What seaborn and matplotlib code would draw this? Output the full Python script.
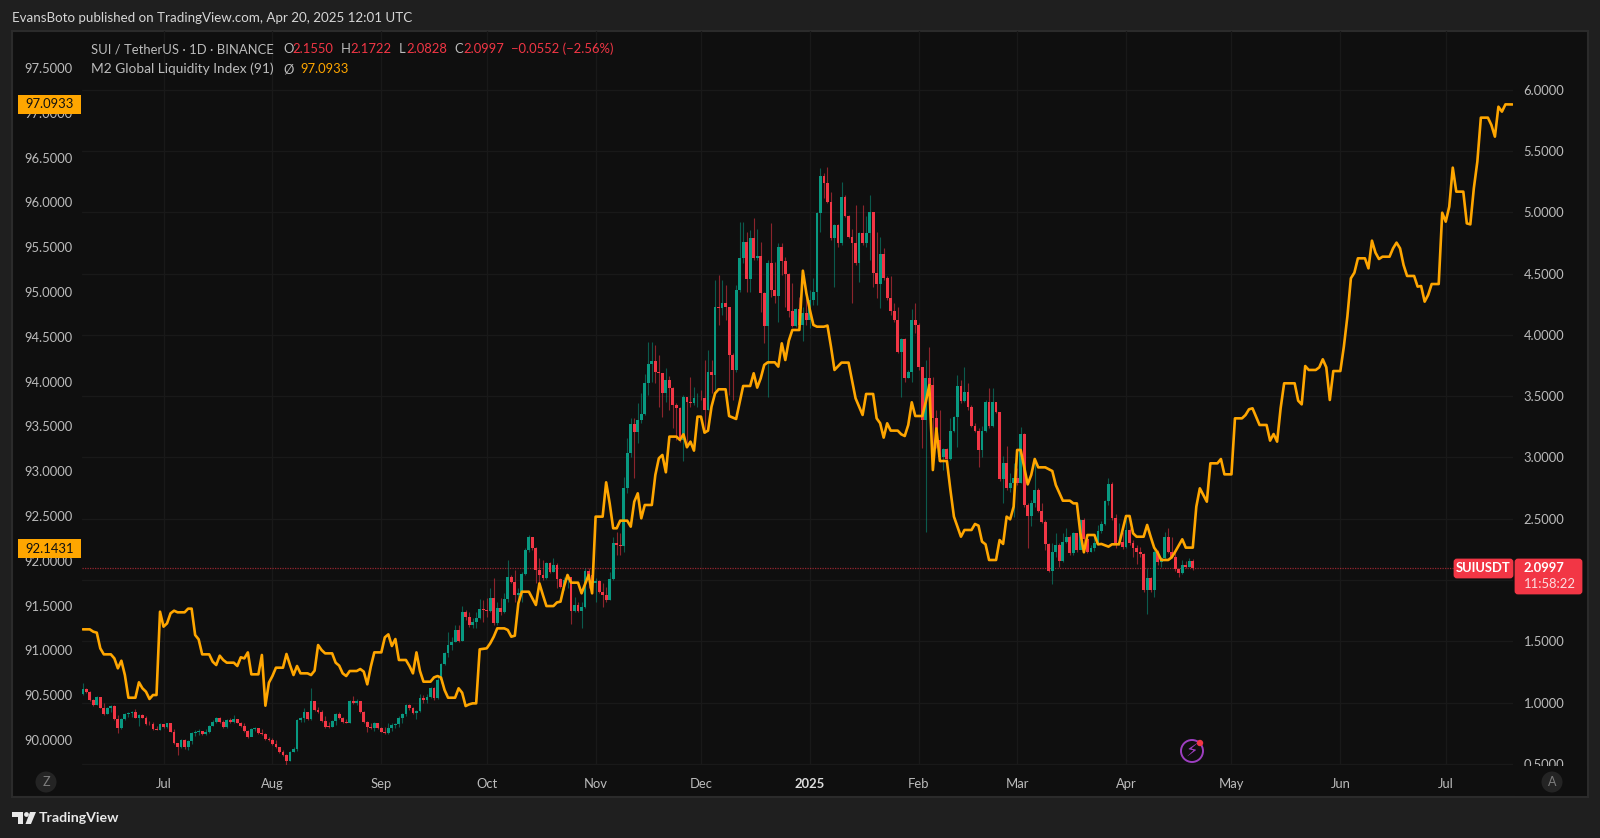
"""
SUIUSDT daily candles with the M2 Global Liquidity Index on a second scale,
drawn in the dark TradingView style. Saves out.png.
"""

import numpy as np
import pandas as pd
import matplotlib
matplotlib.use("Agg")
import matplotlib.pyplot as plt
from matplotlib.patches import Circle, FancyBboxPatch, Polygon, Rectangle
from matplotlib.ticker import FixedLocator, FuncFormatter, NullLocator
import seaborn as sns

# ---------------------------------------------
# DATA
# ---------------------------------------------
FIRST_DAY = "2024-06-08"
FIRST_OPEN = 1.069

# one value per day, 2024-06-08 .. 2025-04-20, ten per row
CLOSES = [
    1.111, 1.089, 1.021, 0.980, 1.043, 0.958, 0.906, 0.953, 0.972, 0.863,
    0.790, 0.866, 0.904, 0.917, 0.920, 0.877, 0.898, 0.877, 0.825, 0.822,
    0.784, 0.779, 0.822, 0.798, 0.830, 0.762, 0.672, 0.634, 0.694, 0.634,
    0.686, 0.748, 0.762, 0.770, 0.740, 0.762, 0.811, 0.844, 0.877, 0.844,
    0.798, 0.855, 0.844, 0.863, 0.836, 0.809, 0.770, 0.716, 0.784, 0.790,
    0.748, 0.743, 0.702, 0.694, 0.661, 0.634, 0.599, 0.572, 0.525, 0.599,
    0.618, 0.858, 0.871, 0.925, 0.863, 1.010, 0.939, 0.925, 0.849, 0.803,
    0.800, 0.849, 0.906, 0.871, 0.844, 0.836, 1.012, 0.993, 1.015, 0.925,
    0.841, 0.798, 0.790, 0.830, 0.790, 0.762, 0.748, 0.790, 0.817, 0.825,
    0.877, 0.906, 0.980, 0.953, 0.912, 0.928, 1.034, 1.021, 1.048, 1.116,
    1.034, 1.184, 1.312, 1.402, 1.470, 1.497, 1.592, 1.505, 1.742, 1.701,
    1.633, 1.660, 1.687, 1.761, 1.755, 1.750, 1.856, 1.652, 1.769, 1.742,
    1.845, 2.022, 1.987, 1.878, 1.897, 2.049, 2.245, 2.348, 2.259, 2.082,
    2.041, 2.014, 2.136, 2.068, 2.123, 2.005, 1.946, 2.000, 2.027, 1.750,
    1.796, 1.750, 1.777, 2.076, 2.041, 1.973, 1.995, 1.905, 1.878, 1.837,
    2.005, 2.305, 2.286, 2.280, 2.748, 3.034, 3.274, 3.212, 3.306, 3.355,
    3.605, 3.764, 3.791, 3.701, 3.687, 3.524, 3.633, 3.565, 3.429, 3.402,
    3.143, 3.497, 3.456, 3.442, 3.483, 3.489, 3.483, 3.388, 3.701, 3.674,
    4.231, 4.217, 4.264, 4.226, 3.837, 3.714, 4.367, 4.626, 4.762, 4.454,
    4.789, 4.626, 4.645, 4.340, 4.076, 4.585, 4.367, 4.321, 4.721, 4.607,
    4.495, 4.199, 4.076, 4.212, 4.081, 4.177, 4.122, 4.286, 4.354, 4.993,
    5.298, 5.243, 5.088, 4.789, 4.898, 4.748, 5.129, 4.971, 4.803, 4.748,
    4.590, 4.835, 4.748, 4.835, 5.007, 4.503, 4.413, 4.658, 4.462, 4.299,
    4.199, 4.122, 3.864, 3.967, 3.646, 3.701, 4.122, 4.081, 3.736, 3.306,
    3.646, 3.592, 3.320, 3.143, 3.007, 3.067, 2.988, 3.216, 3.328, 3.584,
    3.461, 3.537, 3.415, 3.260, 3.219, 3.061, 3.219, 3.456, 3.260, 3.456,
    3.374, 2.822, 2.958, 2.748, 2.789, 2.830, 2.795, 3.192, 2.612, 2.523,
    2.631, 2.735, 2.566, 2.471, 2.291, 2.076, 2.231, 2.286, 2.158, 2.313,
    2.354, 2.218, 2.381, 2.245, 2.490, 2.332, 2.231, 2.259, 2.299, 2.400,
    2.457, 2.645, 2.781, 2.503, 2.299, 2.313, 2.272, 2.408, 2.299, 2.259,
    2.231, 2.212, 1.918, 2.019, 1.918, 2.231, 2.150, 2.177, 2.354, 2.231,
    2.191, 2.087, 2.055, 2.123, 2.109, 2.155, 2.0997,
]
HIGHS = [
    1.162, 1.116, 1.097, 1.032, 1.053, 1.026, 0.993, 0.966, 0.980, 0.980,
    0.898, 0.877, 0.917, 0.925, 0.933, 0.944, 0.906, 0.904, 0.890, 0.852,
    0.838, 0.809, 0.830, 0.825, 0.836, 0.830, 0.781, 0.672, 0.699, 0.699,
    0.694, 0.757, 0.776, 0.781, 0.770, 0.781, 0.817, 0.858, 0.885, 0.885,
    0.858, 0.868, 0.871, 0.898, 0.868, 0.844, 0.830, 0.776, 0.790, 0.798,
    0.795, 0.781, 0.748, 0.721, 0.708, 0.694, 0.640, 0.613, 0.577, 0.607,
    0.634, 0.863, 0.885, 0.953, 0.925, 1.116, 1.015, 0.966, 0.939, 0.890,
    0.844, 0.858, 0.917, 0.925, 0.885, 0.863, 1.021, 1.053, 1.026, 1.012,
    0.931, 0.849, 0.836, 0.838, 0.836, 0.803, 0.798, 0.830, 0.836, 0.836,
    0.890, 0.917, 0.988, 0.988, 0.966, 0.939, 1.069, 1.061, 1.069, 1.129,
    1.129, 1.225, 1.326, 1.416, 1.579, 1.538, 1.633, 1.633, 1.791, 1.755,
    1.742, 1.687, 1.742, 1.845, 1.837, 1.851, 1.932, 2.013, 1.823, 1.851,
    1.891, 2.164, 2.041, 2.082, 1.932, 2.068, 2.259, 2.367, 2.348, 2.272,
    2.177, 2.164, 2.150, 2.150, 2.177, 2.136, 2.014, 2.027, 2.041, 1.959,
    1.864, 1.823, 1.823, 2.095, 2.095, 2.109, 2.014, 2.000, 1.973, 1.946,
    2.068, 2.354, 2.395, 2.381, 2.843, 3.157, 3.320, 3.320, 3.442, 3.524,
    3.682, 3.940, 3.940, 3.919, 3.837, 3.660, 3.728, 3.666, 3.573, 3.442,
    3.415, 3.510, 3.497, 3.655, 3.579, 3.524, 3.551, 3.796, 3.877, 3.796,
    4.449, 4.490, 4.449, 4.408, 4.231, 3.850, 4.408, 4.920, 4.925, 4.843,
    4.857, 4.958, 4.862, 4.762, 4.354, 4.612, 4.911, 4.598, 4.748, 4.754,
    4.639, 4.503, 4.422, 4.218, 4.313, 4.231, 4.313, 4.367, 4.462, 5.007,
    5.360, 5.325, 5.374, 5.170, 4.906, 4.906, 5.252, 5.143, 4.979, 4.862,
    5.061, 4.843, 5.061, 4.974, 5.143, 5.007, 4.843, 4.797, 4.707, 4.481,
    4.481, 4.258, 4.226, 3.978, 3.973, 3.714, 4.212, 4.258, 4.095, 3.741,
    3.796, 3.899, 3.660, 3.388, 3.388, 3.075, 3.075, 3.320, 3.339, 3.674,
    3.633, 3.736, 3.606, 3.429, 3.279, 3.238, 3.260, 3.469, 3.565, 3.565,
    3.456, 3.374, 3.012, 3.094, 2.871, 2.952, 2.912, 3.252, 3.197, 2.626,
    2.653, 2.993, 2.748, 2.626, 2.490, 2.299, 2.305, 2.381, 2.299, 2.381,
    2.422, 2.367, 2.395, 2.386, 2.495, 2.503, 2.367, 2.286, 2.354, 2.449,
    2.484, 2.653, 2.830, 2.803, 2.539, 2.463, 2.395, 2.531, 2.422, 2.327,
    2.286, 2.272, 2.223, 2.095, 2.027, 2.245, 2.245, 2.191, 2.395, 2.422,
    2.354, 2.231, 2.095, 2.163, 2.155, 2.177, 2.1722,
]
LOWS = [
    1.061, 1.075, 1.015, 0.975, 0.980, 0.953, 0.898, 0.906, 0.925, 0.858,
    0.755, 0.784, 0.858, 0.885, 0.885, 0.871, 0.811, 0.871, 0.817, 0.814,
    0.776, 0.773, 0.773, 0.790, 0.795, 0.757, 0.661, 0.572, 0.626, 0.618,
    0.613, 0.661, 0.729, 0.735, 0.735, 0.735, 0.754, 0.809, 0.830, 0.836,
    0.790, 0.790, 0.836, 0.830, 0.830, 0.798, 0.762, 0.708, 0.735, 0.770,
    0.740, 0.738, 0.694, 0.686, 0.656, 0.626, 0.591, 0.564, 0.482, 0.520,
    0.596, 0.602, 0.838, 0.844, 0.858, 0.858, 0.933, 0.917, 0.841, 0.795,
    0.795, 0.798, 0.817, 0.866, 0.836, 0.830, 0.836, 0.985, 0.980, 0.917,
    0.830, 0.762, 0.781, 0.770, 0.781, 0.757, 0.743, 0.743, 0.770, 0.790,
    0.803, 0.830, 0.890, 0.939, 0.906, 0.866, 0.920, 0.999, 0.999, 1.034,
    1.021, 1.026, 1.157, 1.307, 1.369, 1.429, 1.497, 1.497, 1.502, 1.674,
    1.619, 1.606, 1.606, 1.679, 1.660, 1.701, 1.742, 1.633, 1.633, 1.715,
    1.728, 1.823, 1.973, 1.823, 1.823, 1.823, 2.041, 2.231, 2.245, 1.973,
    1.973, 2.000, 2.005, 2.055, 2.068, 1.932, 1.932, 1.919, 1.932, 1.641,
    1.742, 1.742, 1.606, 1.769, 1.932, 1.919, 1.823, 1.897, 1.783, 1.823,
    1.837, 2.000, 2.204, 2.204, 2.231, 2.708, 3.007, 2.830, 3.116, 3.279,
    3.347, 3.510, 3.619, 3.606, 3.415, 3.334, 3.456, 3.388, 3.238, 3.143,
    3.130, 2.974, 3.089, 3.415, 3.429, 3.415, 3.469, 3.197, 3.388, 3.524,
    3.551, 4.081, 4.163, 4.122, 3.510, 3.469, 3.701, 4.354, 4.585, 4.354,
    4.354, 4.612, 4.612, 4.190, 3.937, 3.497, 4.313, 4.258, 4.109, 4.490,
    4.231, 4.150, 4.068, 4.068, 4.068, 3.954, 4.081, 4.054, 4.245, 4.245,
    4.843, 5.115, 5.075, 4.775, 4.394, 4.721, 4.735, 4.966, 4.789, 4.258,
    4.571, 4.435, 4.735, 4.721, 4.612, 4.394, 4.299, 4.218, 4.449, 4.286,
    4.163, 4.109, 3.850, 3.497, 3.619, 3.646, 3.619, 4.013, 3.714, 3.075,
    2.395, 3.524, 3.075, 3.075, 2.966, 2.898, 2.980, 2.980, 3.211, 3.089,
    3.442, 3.456, 3.388, 3.252, 3.211, 2.925, 3.007, 3.211, 3.238, 3.252,
    3.361, 2.811, 2.631, 2.735, 2.721, 2.517, 2.776, 2.789, 2.599, 2.259,
    2.444, 2.599, 2.558, 2.463, 2.245, 2.068, 1.965, 2.191, 2.109, 2.150,
    2.299, 2.204, 2.204, 2.231, 2.278, 2.278, 2.223, 2.231, 2.240, 2.286,
    2.381, 2.449, 2.612, 2.490, 2.259, 2.286, 2.250, 2.259, 2.286, 2.191,
    2.131, 2.191, 1.905, 1.720, 1.905, 1.864, 2.123, 2.104, 2.163, 2.218,
    2.177, 2.076, 2.022, 2.049, 2.095, 2.104, 2.0828,
]

# M2 vertices: days after FIRST_DAY and the index value on that day
M2_DAYS = [
    0, 2, 3, 4, 5, 6, 8, 9, 10, 11, 12, 13, 15, 16, 17, 18, 19, 20, 21, 22,
    23, 24, 25, 26, 27, 29, 30, 31, 32, 33, 34, 36, 37, 38, 39, 40, 41, 43,
    44, 45, 46, 47, 48, 50, 51, 52, 53, 54, 55, 57, 58, 59, 60, 61, 62, 64,
    65, 66, 67, 68, 69, 71, 72, 73, 74, 75, 76, 78, 79, 80, 81, 82, 83, 85,
    86, 87, 88, 89, 90, 92, 93, 94, 95, 96, 97, 99, 100, 101, 102, 103, 104,
    106, 107, 108, 109, 110, 111, 112, 113, 115, 116, 117, 118, 120, 121,
    122, 123, 124, 125, 127, 128, 129, 130, 131, 132, 134, 135, 136, 137,
    138, 139, 141, 142, 144, 145, 146, 148, 149, 150, 151, 152, 153, 155,
    156, 157, 158, 159, 160, 162, 163, 164, 165, 166, 167, 169, 170, 171,
    172, 173, 174, 175, 176, 177, 178, 179, 180, 181, 183, 184, 186, 188,
    190, 191, 192, 193, 194, 195, 197, 198, 199, 200, 201, 202, 204, 205,
    206, 207, 208, 209, 211, 212, 213, 214, 216, 218, 220, 222, 223, 225,
    226, 227, 228, 229, 230, 232, 233, 234, 235, 236, 237, 239, 240, 241,
    242, 243, 244, 246, 247, 248, 250, 251, 253, 254, 255, 256, 257, 258,
    260, 261, 262, 263, 264, 265, 266, 267, 269, 270, 271, 272, 274, 276,
    277, 279, 281, 282, 283, 284, 285, 286, 288, 289, 290, 292, 293, 295,
    297, 298, 299, 300, 302, 303, 304, 305, 306, 307, 309, 310, 311, 313,
    314, 316, 317, 318, 320, 321, 323, 324, 325, 327, 328, 330, 331, 332,
    333, 334, 335, 337, 338, 339, 340, 341, 342, 345, 346, 347, 348, 349,
    351, 352, 353, 354, 355, 356, 358, 359, 360, 361, 362, 363, 365, 366,
    367, 368, 369, 370, 372, 373, 374, 375, 376, 377, 379, 380, 381, 382,
    383, 384, 386, 387, 388, 389, 390, 391, 393, 394, 395, 396, 397, 398,
    400, 401, 402, 403, 404, 405, 407,
]
M2_VALUES = [
    91.235, 91.235, 91.209, 91.198, 91.023, 90.956, 90.956, 90.911, 90.800,
    90.885, 90.725, 90.472, 90.472, 90.644, 90.577, 90.539, 90.458, 90.502,
    90.502, 91.432, 91.265, 91.302, 91.414, 91.443, 91.425, 91.425, 91.466,
    91.466, 91.172, 91.123, 90.956, 90.956, 90.874, 90.837, 90.941, 90.893,
    90.863, 90.863, 90.826, 90.923, 90.911, 90.978, 90.733, 90.733, 90.949,
    90.383, 90.640, 90.714, 90.807, 90.807, 90.960, 90.837, 90.725, 90.826,
    90.744, 90.744, 90.725, 90.774, 91.060, 91.004, 90.967, 90.967, 90.863,
    90.830, 90.744, 90.714, 90.770, 90.770, 90.792, 90.763, 90.621, 90.818,
    90.978, 90.978, 91.146, 91.179, 91.049, 91.127, 90.893, 90.893, 90.826,
    90.744, 90.978, 90.770, 90.651, 90.651, 90.699, 90.714, 90.696, 90.558,
    90.472, 90.472, 90.577, 90.528, 90.379, 90.398, 90.409, 90.409, 91.012,
    91.023, 91.079, 91.153, 91.246, 91.246, 91.228, 91.153, 91.164, 91.525,
    91.655, 91.655, 91.581, 91.507, 91.748, 91.618, 91.495, 91.495, 91.536,
    91.544, 91.712, 91.842, 91.756, 91.756, 91.637, 91.842, 91.637, 92.493,
    92.493, 92.876, 92.642, 92.363, 92.363, 92.448, 92.448, 92.381, 92.660,
    92.753, 92.474, 92.623, 92.623, 92.958, 93.144, 93.181, 92.988, 93.386,
    93.386, 93.349, 93.412, 93.267, 93.330, 93.230, 93.609, 93.609, 93.430,
    93.453, 93.721, 93.869, 93.914, 93.914, 93.616, 93.583, 93.951, 93.951,
    94.093, 93.933, 94.037, 94.186, 94.215, 94.215, 94.167, 94.427, 94.241,
    94.457, 94.576, 94.576, 95.238, 94.985, 94.799, 94.632, 94.613, 94.613,
    94.625, 94.390, 94.130, 94.212, 94.212, 93.814, 93.628, 93.862, 93.862,
    93.590, 93.535, 93.375, 93.535, 93.453, 93.453, 93.412, 93.393, 93.516,
    93.769, 93.616, 93.616, 93.776, 93.962, 93.013, 93.478, 93.114, 93.114,
    92.790, 92.493, 92.269, 92.344, 92.344, 92.411, 92.392, 92.214, 92.184,
    92.009, 92.009, 92.232, 92.188, 92.493, 92.463, 92.604, 93.237, 93.237,
    92.853, 92.958, 93.136, 93.043, 93.043, 93.002, 92.846, 92.671, 92.671,
    92.641, 92.641, 92.307, 92.095, 92.288, 92.288, 92.184, 92.188, 92.158,
    92.184, 92.184, 92.500, 92.500, 92.307, 92.269, 92.269, 92.400, 92.269,
    92.147, 92.091, 92.009, 92.009, 92.039, 92.102, 92.240, 92.147, 92.147,
    92.604, 92.809, 92.660, 93.088, 93.088, 93.136, 92.965, 92.965, 93.590,
    93.590, 93.627, 93.691, 93.702, 93.609, 93.516, 93.516, 93.341, 93.415,
    93.330, 93.702, 93.981, 93.981, 93.787, 93.746, 94.174, 94.130, 94.130,
    94.159, 94.249, 94.159, 93.795, 94.118, 94.118, 94.390, 94.725, 95.153,
    95.216, 95.376, 95.376, 95.264, 95.573, 95.439, 95.368, 95.394, 95.394,
    95.487, 95.551, 95.487, 95.301, 95.179, 95.179, 95.060, 95.067, 94.892,
    94.967, 95.089, 95.089, 95.885, 95.785, 95.952, 96.388, 96.120, 96.120,
    95.766, 95.755, 96.157, 96.455, 96.946, 96.946, 96.864, 96.734, 97.068,
    97.013, 97.094, 97.0933,
]

MONTH_DATES = [
    "2024-07-01", "2024-08-01", "2024-09-01", "2024-10-01", "2024-11-01",
    "2024-12-01", "2025-01-01", "2025-02-01", "2025-03-01", "2025-04-01",
    "2025-05-01", "2025-06-01", "2025-07-01",
]
MONTH_LABELS = [
    "Jul", "Aug", "Sep", "Oct", "Nov", "Dec", "2025",
    "Feb", "Mar", "Apr", "May", "Jun", "Jul",
]
PRICE_TICKS = [0.5, 1.0, 1.5, 2.0, 2.5, 3.0, 3.5, 4.0, 4.5, 5.0, 5.5, 6.0]
PRICE_TICK_LABELS = [
    "0.5000", "1.0000", "1.5000", "", "2.5000", "3.0000",
    "3.5000", "4.0000", "4.5000", "5.0000", "5.5000", "6.0000",
]
M2_TICKS = [
    90.0, 90.5, 91.0, 91.5, 92.0, 92.5, 93.0, 93.5,
    94.0, 94.5, 95.0, 95.5, 96.0, 96.5, 97.0, 97.5,
]

# ---------------------------------------------
# STYLE
# ---------------------------------------------
OUTER_BG = "#1f1f1f"
PANEL_BG = "#0f0f0f"
BORDER = "#2b2b2b"
GRID = "#191919"
TEXT = "#bcbcbc"
UP = "#089981"
DOWN = "#f23645"
ORANGE = "#ffa600"

W, H = 1600, 838

sns.set_theme(style="dark", rc={
    "axes.facecolor": PANEL_BG,
    "figure.facecolor": OUTER_BG,
    "savefig.facecolor": OUTER_BG,
})
plt.rcParams["font.family"] = ["Lato", "DejaVu Sans"]
FS = 9.4

# ---------------------------------------------
# BUILD TABLES
# ---------------------------------------------
days = pd.date_range(FIRST_DAY, periods=len(CLOSES), freq="D")
opens = [FIRST_OPEN] + CLOSES[:-1]
candles = pd.DataFrame({"date": days, "open": opens, "close": CLOSES,
                        "high": HIGHS, "low": LOWS})
candles["colour"] = np.where(candles["close"] >= candles["open"], UP, DOWN)

m2 = pd.DataFrame({
    "date": pd.Timestamp(FIRST_DAY) + pd.to_timedelta(M2_DAYS, unit="D"),
    "value": M2_VALUES,
})

# ---------------------------------------------
# FIGURE, FRAME AND MAIN AXES
# ---------------------------------------------
fig = plt.figure(figsize=(W / 100, H / 100), dpi=100)


def pixel_axes(zorder):
    """Axes over the full figure, in image pixels with y going down."""
    a = fig.add_axes([0, 0, 1, 1], zorder=zorder)
    a.set_xlim(0, W)
    a.set_ylim(H, 0)
    a.axis("off")
    return a


bg = pixel_axes(0)
bg.add_patch(Rectangle((12, 31), 1576, 766, facecolor=PANEL_BG, edgecolor=BORDER, linewidth=1.5))

ax = fig.add_axes([82 / W, (H - 765) / H, (1513 - 82) / W, (765 - 31) / H], zorder=1)
ax.patch.set_visible(False)
ax2 = ax.twinx()
ax2.set_zorder(2)
ax2.patch.set_visible(False)

# ---------------------------------------------
# CANDLES
# ---------------------------------------------
ax.vlines(candles["date"], candles["low"], candles["high"],
          colors=candles["colour"], linewidth=0.8, alpha=0.55, zorder=3)
ax.bar(candles["date"], (candles["close"] - candles["open"]).abs().clip(lower=0.006),
       bottom=candles[["open", "close"]].min(axis=1),
       width=0.8, color=candles["colour"], linewidth=0, zorder=4)
ax.axhline(CLOSES[-1], color=DOWN, linewidth=0.9, linestyle=(0, (1, 1)), alpha=0.6, zorder=2)

# ---------------------------------------------
# M2 LINE
# ---------------------------------------------
sns.lineplot(data=m2, x="date", y="value", ax=ax2, color=ORANGE, linewidth=1.9,
             estimator=None, sort=False, legend=False)

# ---------------------------------------------
# SCALES, GRID AND TICK LABELS
# ---------------------------------------------
x_left = pd.Timestamp(FIRST_DAY) - pd.Timedelta(hours=5)
x_right = pd.Timestamp(FIRST_DAY) + pd.Timedelta(days=407.15)
ax.set_xlim(x_left, x_right)
ax.set_ylim(0.4898, 6.4816)
ax2.set_ylim(89.721, 97.913)

month_pos = [matplotlib.dates.date2num(pd.Timestamp(d)) for d in MONTH_DATES]
ax.xaxis.set_major_locator(FixedLocator(month_pos))
ax.xaxis.set_major_formatter(FuncFormatter(lambda v, i: MONTH_LABELS[i] if i < len(MONTH_LABELS) else ""))
ax.set_xlabel("")
ax.set_ylabel("")
ax2.set_xlabel("")
ax2.set_ylabel("")

ax.yaxis.tick_right()
ax.yaxis.set_major_locator(FixedLocator(PRICE_TICKS))
ax.yaxis.set_major_formatter(FuncFormatter(lambda v, i: PRICE_TICK_LABELS[i]))
ax.yaxis.set_minor_locator(NullLocator())
ax.grid(True, color=GRID, linewidth=1.0, zorder=0)
ax.set_axisbelow(True)
ax.tick_params(axis="x", length=0, pad=9, labelsize=FS, labelcolor=TEXT)
ax.tick_params(axis="y", length=0, pad=7.7, labelsize=FS, labelcolor=TEXT)
for lbl in ax.get_xticklabels():
    if lbl.get_text() == "2025":
        lbl.set_fontweight("bold")
        lbl.set_color("#dddddd")

ax2.yaxis.tick_left()
ax2.yaxis.set_major_locator(FixedLocator(M2_TICKS))
ax2.yaxis.set_major_formatter(FuncFormatter(lambda v, i: f"{v:.4f}"))
ax2.tick_params(axis="y", length=0, pad=6.8, labelsize=FS, labelcolor=TEXT)
ax2.grid(False)
ax2.xaxis.set_visible(False)
for a in (ax, ax2):
    for s in a.spines.values():
        s.set_visible(False)

# ---------------------------------------------
# OVERLAY: HEADER, LEGEND, BADGES, ICONS
# ---------------------------------------------
ov = pixel_axes(3)
ov.patch.set_visible(False)

# hides the lower half of the 0.5000 label, like the clipped scale
ov.add_patch(Rectangle((1515, 765.5), 72, 30, facecolor=PANEL_BG, edgecolor="none", zorder=1))


def label(x, y, s, color=TEXT, ha="left", size=FS, weight="normal"):
    ov.text(x, y, s, color=color, ha=ha, va="center", fontsize=size, fontweight=weight, zorder=6)


label(12, 18, "EvansBoto published on TradingView.com, Apr 20, 2025 12:01 UTC", "#d6d6d6", size=9.6)

label(91, 49, "SUI / TetherUS · 1D · BINANCE")
for x, s, c in [(283, "O", TEXT), (292, "2.1550", DOWN), (341, "H", TEXT), (350, "2.1722", DOWN),
                (399, "L", TEXT), (406, "2.0828", DOWN), (454, "C", TEXT), (463, "2.0997", DOWN),
                (511, "−0.0552 (−2.56%)", DOWN)]:
    label(x, 49, s, c)
label(91, 69, "M2 Global Liquidity Index (91)", size=9.9)
label(283, 69, "Ø")
label(300, 69, "97.0933", ORANGE)

# value badges on the left scale
for y, s in [(104.5, "97.0933"), (548.5, "92.1431")]:
    ov.add_patch(Rectangle((18, y - 9.5), 63, 19, facecolor=ORANGE, edgecolor="none", zorder=3))
    label(49.5, y, s, "#111111", ha="center")

# last price badges on the right
ov.add_patch(FancyBboxPatch((1455, 560), 57, 17, boxstyle="round,pad=0,rounding_size=2",
                            mutation_aspect=1, facecolor=DOWN, edgecolor=DOWN, linewidth=2, zorder=3))
ov.add_patch(FancyBboxPatch((1516, 560), 65, 33, boxstyle="round,pad=0,rounding_size=2",
                            mutation_aspect=1, facecolor=DOWN, edgecolor=DOWN, linewidth=2, zorder=3))
label(1483, 568, "SUIUSDT", "#ffffff", ha="center", weight="bold")
label(1524, 568, "2.0997", "#ffffff", weight="bold")
label(1524, 584, "11:58:22", "#fcdde0")

# bolt icon under the candles
ov.add_patch(Circle((1192, 751), 11, facecolor="none", edgecolor="#9d3fc0", linewidth=1.4, zorder=3))
ov.add_patch(Circle((1200, 743), 3.2, facecolor=DOWN, edgecolor="none", zorder=4))
ov.text(1192, 751.5, "⚡", color="#9d3fc0", ha="center", va="center", fontsize=13,
        family="DejaVu Sans", zorder=4)

# round scale buttons
for x, s in [(46, "Z"), (1552, "A")]:
    ov.add_patch(Circle((x, 782), 10.5, facecolor="#242424", edgecolor="none", zorder=3))
    label(x, 782, s, "#7d7d7d", ha="center", size=9)

# footer logo
logo = "#e8e8e8"
ov.add_patch(Polygon([(12, 812), (23, 812), (23, 824), (18, 824), (18, 817), (12, 817)], facecolor=logo, edgecolor="none"))
ov.add_patch(Circle((26.5, 814.5), 2.4, facecolor=logo, edgecolor="none"))
ov.add_patch(Polygon([(30, 812), (36, 812), (31, 824), (25.5, 824)], facecolor=logo, edgecolor="none"))
label(39, 818, "TradingView", logo, size=10.2, weight="bold")

fig.savefig("out.png", dpi=100)
plt.close(fig)
